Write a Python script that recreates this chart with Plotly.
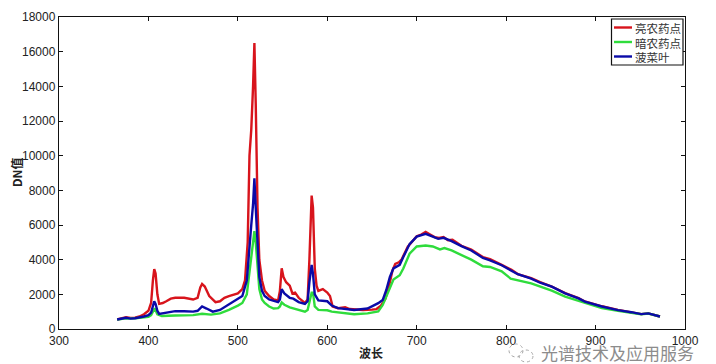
import plotly.graph_objects as go

bright_wl = [365,370,375,380,385,390,395,400,403,405,406.5,408,410,412,416,420,425,430,440,450,455,458,460,463,468,475,480,485,490,500,505,508,511,513,515,517,518.5,520,522,524,527,530,535,540,545,547,549,551,554,558,561,564,568,575,578,580,582.5,584,586,588,590,595,600,603,606,612,620,625,640,650,655,660,665,670,673,676,680,683,690,695,700,705,710,715,720,725,730,735,740,750,761,774,782,795,806,813,828,838,851,866,881,888,907,925,940,951,959,972]
bright_dn = [550,620,680,640,650,720,850,1050,1500,2800,3450,3200,2000,1450,1500,1600,1750,1800,1800,1700,1800,2400,2600,2450,1900,1550,1600,1800,1900,2050,2300,2800,5000,10000,11500,14000,16500,13000,7000,4000,2800,2200,1900,1700,1650,2200,3500,3000,2700,2500,2050,2100,1800,1500,1700,4000,7700,7000,3500,2500,2200,2300,2100,1900,1300,1200,1250,1150,1100,1120,1150,1350,1750,2700,3400,3750,3850,4000,4750,5050,5350,5450,5600,5450,5300,5250,5300,5120,5150,4800,4580,4150,4030,3700,3420,3170,2930,2700,2450,2070,1780,1590,1310,1100,970,860,900,720]

dark_wl = [365,375,385,395,400,403,405,407,410,415,430,450,460,470,480,490,500,505,510,513,515,517,518.5,520,522,524,527,530,535,540,545,547,549,552,558,565,575,578,580,582.5,584,586,590,600,605,612,630,645,657,662,666,670,674,681,685,692,700,710,718,726,731,739,750,761,774,782,795,805,828,851,866,888,907,925,940,951,959,972]
dark_dn = [550,610,620,660,700,800,1000,1200,850,750,780,800,880,830,900,1100,1350,1500,2000,3300,4200,5000,5650,5000,3300,2300,1700,1500,1300,1180,1200,1300,1530,1400,1250,1150,1000,1100,1500,2100,2100,1300,1100,1080,1000,950,850,900,1010,1390,1870,2440,2860,3100,3490,4340,4760,4820,4760,4590,4670,4530,4250,4000,3620,3580,3330,2910,2630,2210,1870,1490,1200,1050,950,850,890,720]

spinach_wl = [365,370,375,380,385,395,400,403,405,406.5,408,410,412,420,430,440,450,455,460,465,472,480,490,500,505,510,513,515,517,518.5,520,522,524,527,530,535,545,547,549,552,558,562,568,575,578,580,582.5,584,586,590,600,605,612,630,645,657,662,666,670,674,678,681,685,692,700,710,718,724,730,739,750,761,774,782,795,806,813,828,838,851,866,881,888,907,925,940,951,959,972]
spinach_dn = [550,600,650,600,620,720,800,950,1300,1600,1450,1050,870,950,1030,1020,1000,1050,1300,1180,1000,1100,1400,1700,1900,2800,5000,6000,7200,8700,7000,4500,3000,2200,1900,1700,1550,1700,2300,2050,1800,1750,1550,1450,1600,2700,3700,3200,2000,1650,1600,1350,1200,1100,1180,1490,1680,2250,3000,3500,3600,3700,4150,4900,5330,5490,5330,5200,5260,5070,4780,4530,4100,3960,3680,3390,3160,2910,2670,2440,2060,1770,1580,1300,1090,970,860,900,720]

x_ticks = [300,400,500,600,700,800,900,1000]
y_ticks = [0,2000,4000,6000,8000,10000,12000,14000,16000,18000]
series_names = ["亮农药点","暗农药点","菠菜叶"]
series_colors = ["#d8141c","#2fdc3c","#0a0aa8"]
x_title = "波长"
y_title = "DN值"
watermark = "光谱技术及应用服务"

CJK = "Noto Sans CJK SC"
LATIN = "Liberation Sans"

# the page puts the figure at (8, 8)
OFF = 8
W, H = 708, 356
L, R, T, B = 51, 31, 9, 35
PW, PH = W - L - R, H - T - B

def px(x):  # picture x -> paper
    return (x - OFF - L) / PW

def py(y):  # picture y -> paper
    return 1 - (y - OFF - T) / PH

fig = go.Figure()
for wl, dn, name, color in zip([bright_wl, dark_wl, spinach_wl],
                               [bright_dn, dark_dn, spinach_dn],
                               series_names, series_colors):
    fig.add_trace(go.Scatter(x=wl, y=dn, mode="lines", name=name,
                             line=dict(color=color, width=2.4), showlegend=False))

axis = dict(ticks="inside", ticklen=4, tickwidth=1, tickcolor="#111",
            showline=True, linecolor="#111", linewidth=1.4, mirror="allticks",
            showgrid=False, zeroline=False, automargin=False,
            tickfont=dict(family=LATIN, size=12, color="#222"))

fig.update_xaxes(range=[300,1000], tickvals=x_ticks, ticktext=[str(v) for v in x_ticks], **axis)
fig.update_yaxes(range=[0,18000], tickvals=y_ticks, ticktext=[str(v) for v in y_ticks], **axis)

annotations = [
    dict(text=x_title, x=px(371), y=py(352), font=dict(family=CJK, size=12, color="#222", weight="bold")),
    dict(text=y_title, x=px(16), y=py(172), textangle=-90, font=dict(family=CJK, size=12, color="#222", weight="bold")),
    dict(text=watermark, x=px(617), y=py(352), font=dict(family=CJK, size=17, color="#8c8c8c")),
]
shapes = [
    dict(type="rect", xref="paper", yref="paper", x0=px(611.5), x1=px(683), y0=py(19), y1=py(65),
         fillcolor="white", line=dict(color="#111", width=1.2), layer="above"),
    dict(type="circle", xref="paper", yref="paper", x0=px(509), x1=px(523), y0=py(344), y1=py(357),
         line=dict(color="#a8a8a8", width=1, dash="dot")),
    dict(type="circle", xref="paper", yref="paper", x0=px(519), x1=px(533), y0=py(350), y1=py(362),
         line=dict(color="#a8a8a8", width=1, dash="dot")),
]
for i, (name, color) in enumerate(zip(series_names, series_colors)):
    y = 27.5 + i * 14.5
    shapes.append(dict(type="line", xref="paper", yref="paper", x0=px(614), x1=px(632), y0=py(y), y1=py(y),
                       line=dict(color=color, width=2.4), layer="above"))
    annotations.append(dict(text=name, x=px(633), y=py(y + 0.5), xanchor="left",
                            font=dict(family=CJK, size=11.5, color="#333")))
for a in annotations:
    a.update(xref="paper", yref="paper", showarrow=False)
    a.setdefault("xanchor", "center")
    a.setdefault("yanchor", "middle")

fig.update_layout(
    width=W, height=H, autosize=False,
    margin=dict(l=L, r=R, t=T, b=B),
    paper_bgcolor="white", plot_bgcolor="white",
    showlegend=False, annotations=annotations, shapes=shapes,
)

fig.write_html("out.html")
